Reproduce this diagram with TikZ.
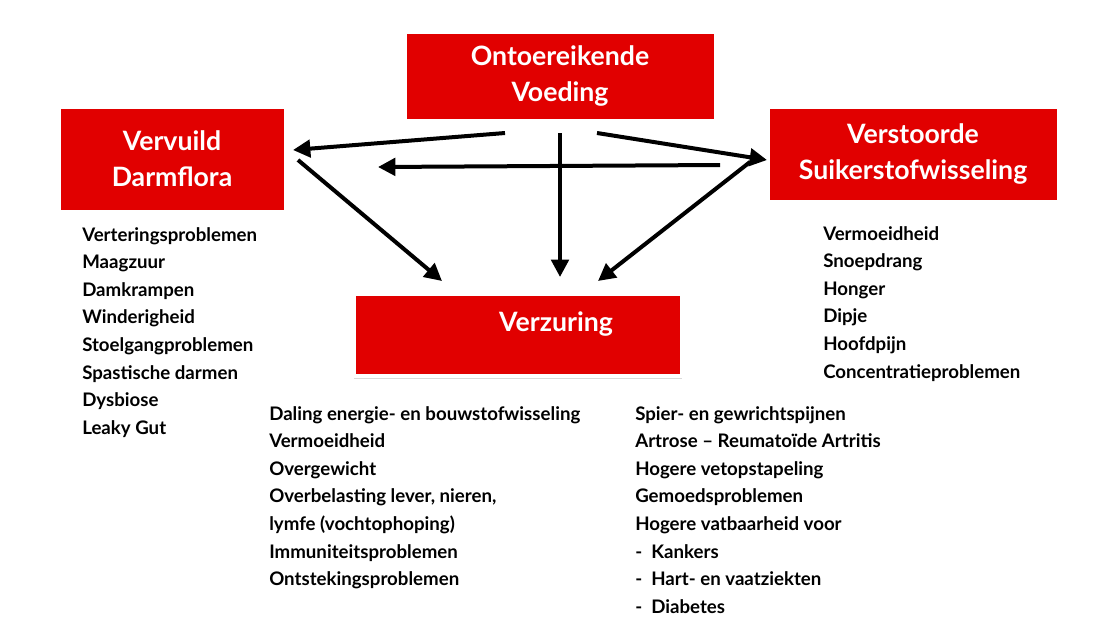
\documentclass[tikz,border=0pt]{standalone}
\usepackage{fontspec}
\setmainfont{Lato}
\usetikzlibrary{arrows.meta,shadows}
\definecolor{boxred}{RGB}{225,0,0}
\begin{document}
\begin{tikzpicture}[x=0.75pt,y=-0.75pt,
  redbox/.style={draw=white,line width=3pt,fill=boxred,text=white,align=center,
    font=\fontsize{20}{25}\selectfont\bfseries,inner sep=0pt,
    drop shadow={shadow xshift=0pt,shadow yshift=-2pt,opacity=0.3}},
  arr/.style={line width=3pt,-{Triangle[length=13pt,width=13pt]}},
  lst/.style={anchor=north west,align=left,inner sep=0pt,
    font=\fontsize{14}{20.7}\selectfont\bfseries}]
\useasboundingbox (0,0) rectangle (1109,636);
\node[redbox,minimum width=311*0.75pt,minimum height=89*0.75pt] (top) at (560,76) {Ontoereikende\\[2pt]Voeding};
\node[redbox,minimum width=227*0.75pt,minimum height=105*0.75pt] (left) at (172,159) {Vervuild\\[2pt]Darmflora};
\node[redbox,minimum width=291*0.75pt,minimum height=95*0.75pt] (right) at (913,154) {Verstoorde\\[2pt]Suikerstofwisseling};
\node[redbox,minimum width=328*0.75pt,minimum height=82*0.75pt] (bot) at (518,335) {};
\node[text=white,font=\fontsize{20}{25}\selectfont\bfseries] (botlabel) at (556,324) {Verzuring};
\coordinate (t1) at (505,133); \coordinate (t2) at (560,133); \coordinate (t3) at (597,133);
\coordinate (lt) at (293,150); \coordinate (lb) at (298,160);
\coordinate (r1) at (720,165); \coordinate (r2) at (378,167);
\coordinate (rt) at (767,160); \coordinate (rb) at (750,162);
\coordinate (b1) at (442,281); \coordinate (b2) at (560,277); \coordinate (b3) at (598,281);
\draw[arr] (t1) -- (lt);
\draw[arr] (r1) -- (r2);
\draw[arr] (t2) -- (b2);
\draw[arr] (t3) -- (rt);
\draw[arr] (lb) -- (b1);
\draw[arr] (rb) -- (b3);
\node[lst] (l1) at (82,227) {Verteringsproblemen\\Maagzuur\\Damkrampen\\Winderigheid\\Stoelgangproblemen\\Spastische darmen\\Dysbiose\\Leaky Gut};
\node[lst] (l2) at (823,226) {Vermoeidheid\\Snoepdrang\\Honger\\Dipje\\Hoofdpijn\\Concentratieproblemen};
\node[lst] (l3) at (269,406) {Daling energie- en bouwstofwisseling\\Vermoeidheid\\Overgewicht\\Overbelasting lever, nieren,\\lymfe (vochtophoping)\\Immuniteitsproblemen\\Ontstekingsproblemen};
\node[lst] (l4) at (635,406) {Spier- en gewrichtspijnen\\Artrose – Reumatoïde Artritis\\Hogere vetopstapeling\\Gemoedsproblemen\\Hogere vatbaarheid voor\\-\ \ Kankers\\-\ \ Hart- en vaatziekten\\-\ \ Diabetes};
\end{tikzpicture}
\end{document}
